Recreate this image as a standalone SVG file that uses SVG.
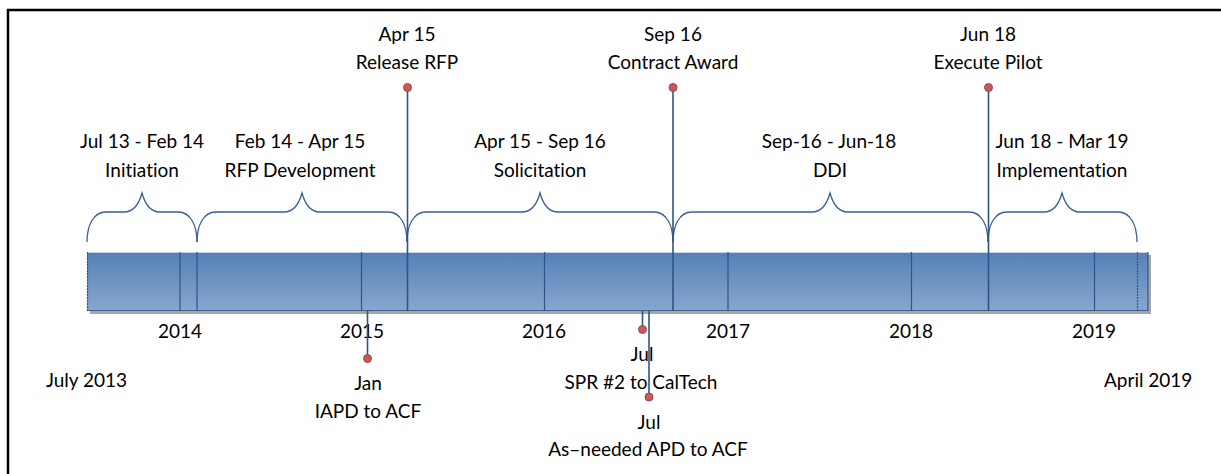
<svg xmlns="http://www.w3.org/2000/svg" width="1221" height="474" viewBox="0 0 1221 474">
<style>
text{font-family:Lato,"Open Sans","Liberation Sans",sans-serif;font-size:19px;fill:#000;text-anchor:middle;font-variant-ligatures:none}
.l{text-anchor:start}
.div{stroke:#2E5489;stroke-width:1.2}
.brace{fill:none;stroke:#3A5F91;stroke-width:1.3}
.stem{stroke:#2E5489;stroke-width:1.6}
.dot{fill:#C65A5A;stroke:#A8413F;stroke-width:1}
</style>
<defs>
<linearGradient id="g" x1="0" y1="0" x2="0" y2="1">
<stop offset="0" stop-color="#5580B6"/>
<stop offset="1" stop-color="#88A7CF"/>
</linearGradient>
</defs>
<rect x="0" y="0" width="1221" height="474" fill="#fff"/>
<rect x="8" y="10" width="1240" height="490" fill="none" stroke="#000" stroke-width="2.5"/>
<g id="bar">
<rect x="90" y="255" width="1061" height="59" fill="#A6A6A6"/>
<rect x="87" y="252" width="1061" height="59" fill="url(#g)"/>
<line x1="87" y1="252.5" x2="1148" y2="252.5" stroke="#C9D5E6" stroke-width="1"/>
<line x1="87" y1="310.5" x2="1148" y2="310.5" stroke="#3F6391" stroke-width="1.2"/>
<line x1="87.5" y1="252" x2="87.5" y2="311" stroke="#2E5489" stroke-width="1.2" stroke-dasharray="2,1"/>
<line x1="1137.5" y1="252" x2="1137.5" y2="311" stroke="#2E5489" stroke-width="1.2" stroke-dasharray="2,1"/>
<line x1="1148" y1="252" x2="1148" y2="311" class="div"/>
<line x1="180" y1="252" x2="180" y2="311" class="div"/>
<line x1="197" y1="252" x2="197" y2="311" class="div"/>
<line x1="361.5" y1="252" x2="361.5" y2="311" class="div"/>
<line x1="544.5" y1="252" x2="544.5" y2="311" class="div"/>
<line x1="728" y1="252" x2="728" y2="311" class="div"/>
<line x1="911.5" y1="252" x2="911.5" y2="311" class="div"/>
<line x1="1094.5" y1="252" x2="1094.5" y2="311" class="div"/>
</g>
<g id="years">
<text x="180" y="338">2014</text>
<text x="362" y="338">2015</text>
<text x="544" y="338">2016</text>
<text x="728" y="338">2017</text>
<text x="911" y="338">2018</text>
<text x="1094" y="338">2019</text>
<text x="46" y="387" class="l">July 2013</text>
<text x="1104" y="387" class="l">April 2019</text>
</g>
<g id="connectors">
<path class="brace" d="M87,242 C87,226 93,212 106,212 L124,212 C133,212 139,204 142,193 C145,204 151,212 160,212 L178,212 C191,212 197,226 197,242"/>
<path class="brace" d="M197,242 C197,226 203,212 216,212 L284,212 C293,212 299,204 302,193 C305,204 311,212 320,212 L388,212 C401,212 407,226 407,242"/>
<path class="brace" d="M407,242 C407,226 413,212 426,212 L522,212 C531,212 537,204 540,193 C543,204 549,212 558,212 L654,212 C667,212 673,226 673,242"/>
<path class="brace" d="M673,242 C673,226 679,212 692,212 L812,212 C821,212 827,204 830,193 C833,204 839,212 848,212 L969,212 C982,212 988,226 988,242"/>
<path class="brace" d="M988,242 C988,226 994,212 1007,212 L1044,212 C1053,212 1059,204 1062,193 C1065,204 1071,212 1080,212 L1118,212 C1131,212 1137,226 1137,242"/>
<line class="stem" x1="407.5" y1="88" x2="407.5" y2="311"/>
<line class="stem" x1="673" y1="88" x2="673" y2="311"/>
<line class="stem" x1="988.5" y1="88" x2="988.5" y2="311"/>
<line class="stem" x1="367.5" y1="311" x2="367.5" y2="358"/>
<line class="stem" x1="642.5" y1="311" x2="642.5" y2="329"/>
<line class="stem" x1="649" y1="311" x2="649" y2="396"/>
</g>
<g id="m-release">
<circle class="dot" cx="407.5" cy="87.5" r="4"/>
<text x="407" y="41">Apr 15</text>
<text x="407" y="69">Release RFP</text>
</g>
<g id="m-award">
<circle class="dot" cx="673" cy="87.5" r="4"/>
<text x="673" y="41">Sep 16</text>
<text x="673" y="69">Contract Award</text>
</g>
<g id="m-pilot">
<circle class="dot" cx="988.5" cy="87.5" r="4"/>
<text x="988" y="41">Jun 18</text>
<text x="988" y="69">Execute Pilot</text>
</g>
<g id="p-initiation">
<text x="142" y="148">Jul 13 - Feb 14</text>
<text x="142" y="177">Initiation</text>
</g>
<g id="p-rfp">
<text x="300" y="148">Feb 14 - Apr 15</text>
<text x="300" y="177">RFP Development</text>
</g>
<g id="p-solicitation">
<text x="540" y="148">Apr 15 - Sep 16</text>
<text x="540" y="177">Solicitation</text>
</g>
<g id="p-ddi">
<text x="829" y="148">Sep-16 - Jun-18</text>
<text x="830" y="177">DDI</text>
</g>
<g id="p-implementation">
<text x="1062" y="148">Jun 18 - Mar 19</text>
<text x="1062" y="177">Implementation</text>
</g>
<g id="m-iapd">
<circle class="dot" cx="367.5" cy="358.5" r="4"/>
<text x="368" y="390">Jan</text>
<text x="368" y="418">IAPD to ACF</text>
</g>
<g id="m-spr">
<circle class="dot" cx="642.5" cy="329.5" r="4"/>
<text x="642" y="361">Jul</text>
<text x="641" y="389">SPR #2 to CalTech</text>
</g>
<g id="m-apd">
<circle class="dot" cx="649" cy="397" r="4"/>
<text x="649" y="429">Jul</text>
<text x="648" y="456">As–needed APD to ACF</text>
</g>
</svg>
